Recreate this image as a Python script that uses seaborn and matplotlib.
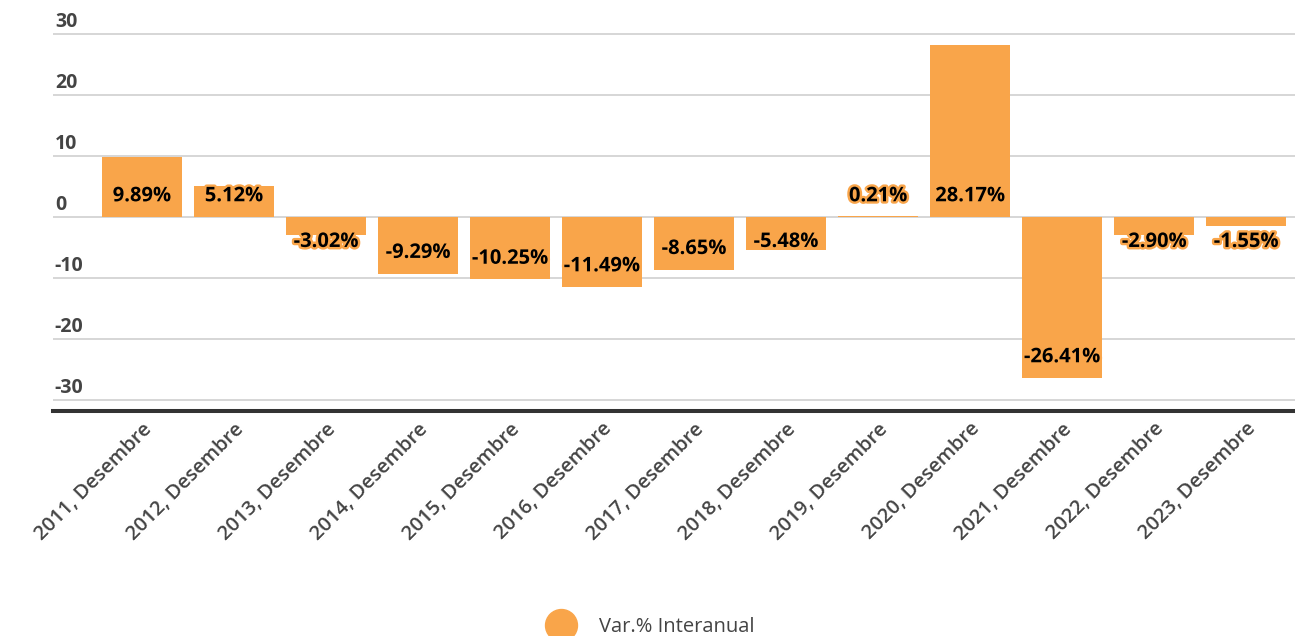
import seaborn as sns
import matplotlib.pyplot as plt
import matplotlib.patheffects as pe
from matplotlib.lines import Line2D
import matplotlib.transforms as mtrans
import pandas as pd

# chart data
years = ["2011", "2012", "2013", "2014", "2015", "2016", "2017",
         "2018", "2019", "2020", "2021", "2022", "2023"]
categories = [y + ", Desembre" for y in years]
values = [9.89, 5.12, -3.02, -9.29, -10.25, -11.49, -8.65,
          -5.48, 0.21, 28.17, -26.41, -2.90, -1.55]
y_ticks = [30, 20, 10, 0, -10, -20, -30]
series_name = "Var.% Interanual"

df = pd.DataFrame({"cat": categories, "val": values})

orange = "#F9A54A"
grey_text = "#444444"

sns.set_style("white")
plt.rcParams["font.family"] = ["Open Sans", "DejaVu Sans"]

fig = plt.figure(figsize=(12.95, 6.36), dpi=100)
ax = fig.add_axes([53 / 1295, 0.354, 1 - 53 / 1295, 0.602])

sns.barplot(data=df, x="cat", y="val", color=orange, width=0.87,
            saturation=1, linewidth=0, ax=ax, zorder=2)

ax.set_ylim(-31.8, 31)
ax.set_xlim(-0.967, 12.53)

# grid lines and y labels sitting on top of them
ax.set_yticks(y_ticks)
ax.set_yticklabels([])
ax.tick_params(axis="y", length=0)
ax.grid(axis="y", color="#d6d6d6", linewidth=1.4, zorder=0)
trans = mtrans.blended_transform_factory(ax.transAxes, ax.transData)
for t in y_ticks:
    ax.text(0.0015, t + 0.3, str(t), transform=trans, ha="left", va="bottom",
            fontsize=14, color=grey_text, fontweight="bold")

for s in ["top", "right", "left"]:
    ax.spines[s].set_visible(False)
ax.spines["bottom"].set_color("#333333")
ax.spines["bottom"].set_linewidth(2.9)

ax.set_xlabel("")
ax.set_ylabel("")
ax.tick_params(axis="x", length=0, pad=6)
ax.set_xticks(range(len(categories)))
ax.set_xticklabels(categories, rotation=45, ha="right",
                   rotation_mode="anchor", fontsize=14.5, color=grey_text,
                   fontweight="semibold")

# data labels
for i, v in enumerate(values):
    if v >= 0:
        ypos = 3.4
    else:
        ypos = min(-4.1, v + 3.4)
    ax.text(i, ypos, f"{v:.2f}%", ha="center", va="center", fontsize=14.5,
            fontweight="bold", color="black", zorder=5,
            path_effects=[pe.withStroke(linewidth=3.5, foreground=orange)])

# legend
handle = Line2D([], [], marker="o", linestyle="", markersize=23,
                markerfacecolor=orange, markeredgecolor=orange)
leg = fig.legend([handle], [series_name], loc="lower center",
                 bbox_to_anchor=(0.5, -0.03), frameon=False, fontsize=14.5,
                 handletextpad=0.9)
for txt in leg.get_texts():
    txt.set_color(grey_text)
    txt.set_fontweight("medium")

fig.savefig("out.png", dpi=100)
